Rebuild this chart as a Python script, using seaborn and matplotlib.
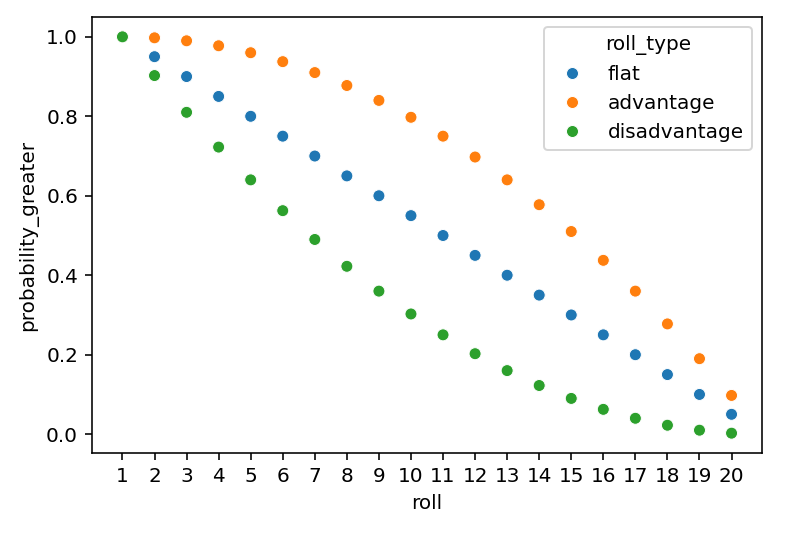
import pandas as pd
import seaborn as sns
import matplotlib.pyplot as plt

# Values
rolls = list(range(1, 21))
flat = [1.0, 0.95, 0.9, 0.85, 0.8, 0.75, 0.7, 0.65, 0.6, 0.55,
        0.5, 0.45, 0.4, 0.35, 0.3, 0.25, 0.2, 0.15, 0.1, 0.05]
advantage = [1.0, 0.9975, 0.99, 0.9775, 0.96, 0.9375, 0.91, 0.8775, 0.84, 0.7975,
             0.75, 0.6975, 0.64, 0.5775, 0.51, 0.4375, 0.36, 0.2775, 0.19, 0.0975]
disadvantage = [1.0, 0.9025, 0.81, 0.7225, 0.64, 0.5625, 0.49, 0.4225, 0.36, 0.3025,
                0.25, 0.2025, 0.16, 0.1225, 0.09, 0.0625, 0.04, 0.0225, 0.01, 0.0025]

frames = []
for name, vals in [('flat', flat), ('advantage', advantage), ('disadvantage', disadvantage)]:
    frames.append(pd.DataFrame({'roll': rolls, 'probability_greater': vals, 'roll_type': name}))
df = pd.concat(frames, ignore_index=True)

fig = plt.figure(figsize=(806 / 144, 536 / 144), dpi=144)
ax = fig.add_axes([92 / 806, 1 - 453 / 536, 670 / 806, 436 / 536])
sns.scatterplot(data=df, x='roll', y='probability_greater', hue='roll_type', ax=ax)
ax.set_xticks(rolls)
ax.legend(title='roll_type', loc='upper right')
fig.savefig('out.png', dpi=144)
